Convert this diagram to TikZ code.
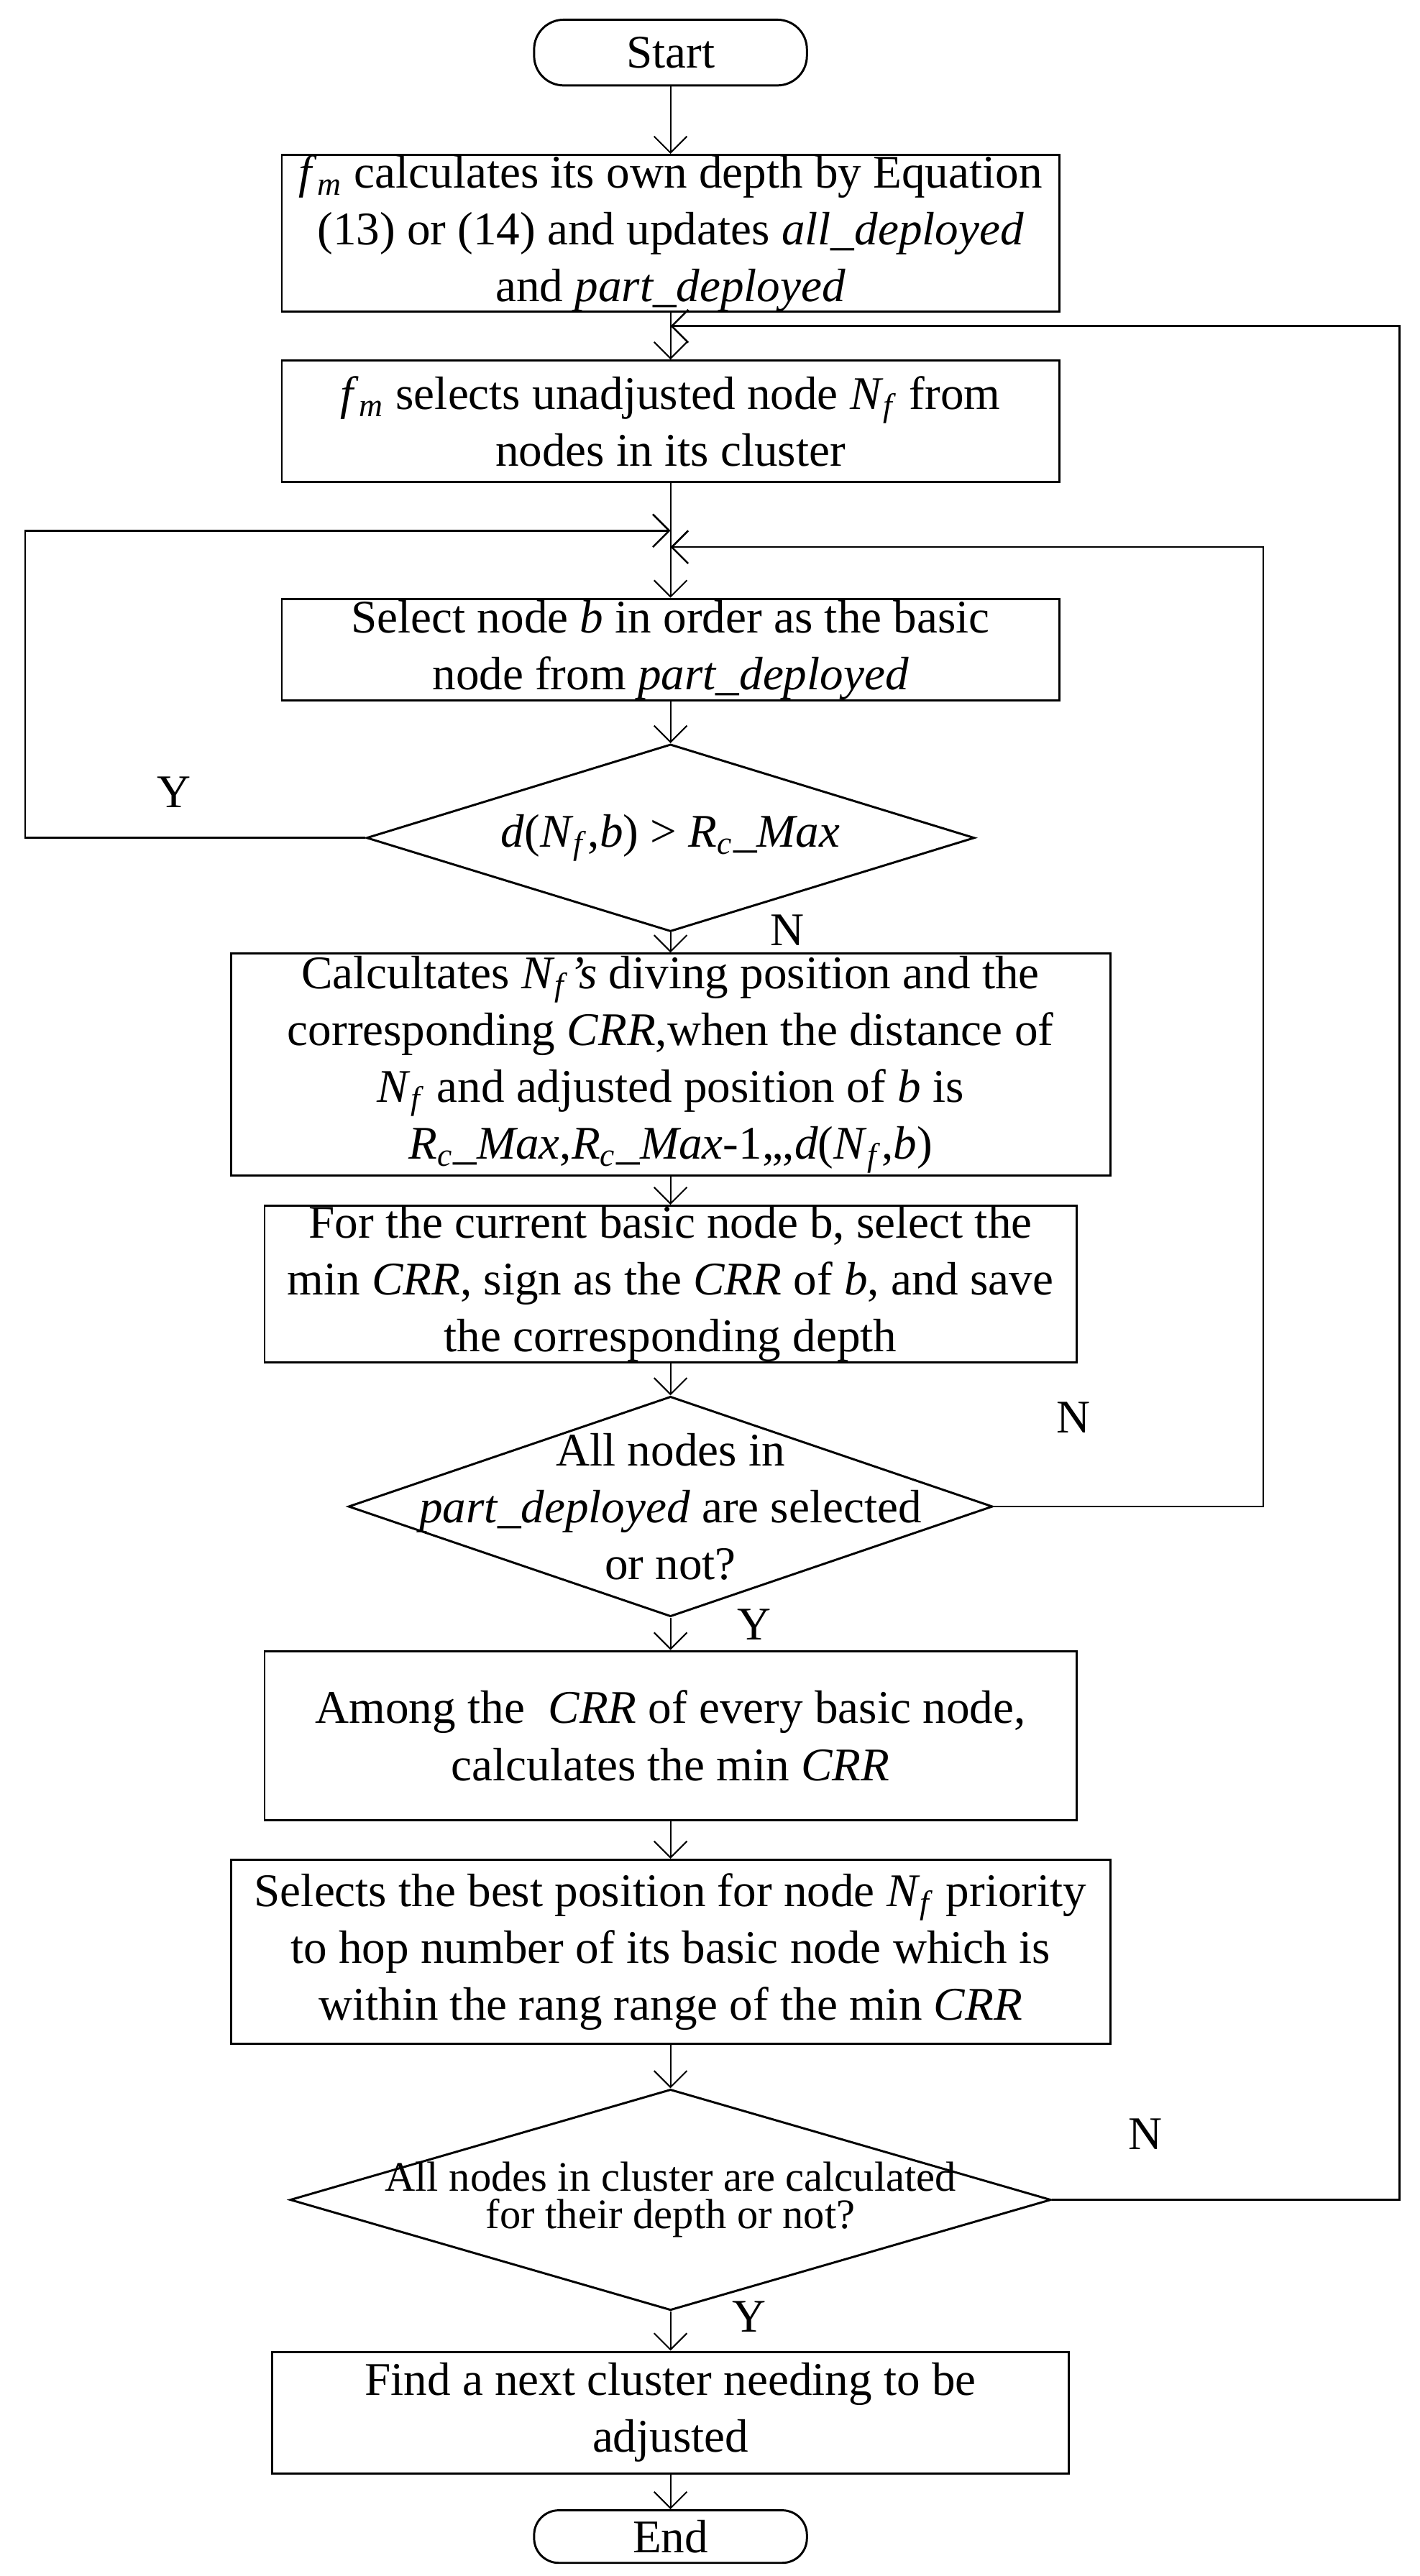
\documentclass[tikz,border=0pt]{standalone}
\usepackage{fontspec}
\setmainfont{Liberation Serif}
\usetikzlibrary{arrows.meta,shapes.geometric}
\newcommand\Nf{\textit{N}\textsubscript{\textit{f}}}
\newcommand\fmx{\textit{f}\textsubscript{\textit{m}}}
\newcommand\Rc{\textit{R}\textsubscript{\textit{c}}}
\newcommand\mainfs{\fontsize{14.25}{17.3}\selectfont}
\begin{document}
\begin{tikzpicture}[x=0.5pt,y=-0.5pt,
  >={Straight Barb[length=5pt,width=10pt]},
  box/.style={draw,line width=0.65pt,rectangle,inner sep=0pt,align=center,font=\mainfs},
  term/.style={draw,line width=0.65pt,rectangle,rounded corners=9pt,inner sep=0pt,font=\mainfs},
  dia/.style={draw,line width=0.65pt,diamond,inner sep=0pt},
  txt/.style={align=center,inner sep=0pt,font=\mainfs},
  flow/.style={->,line width=0.45pt},
  back/.style={->,line width=0.55pt},
  lab/.style={inner sep=0pt,font=\mainfs}]
\useasboundingbox (0,0) rectangle (864,1568);

\node[term,minimum width=83pt,minimum height=20pt] (start) at (408,32) {Start};
\node[box,minimum width=236.5pt,minimum height=47pt] (b1) at (408,142)
  {\fmx{} calculates its own depth by Equation\\(13) or (14) and updates \textit{all\_deployed}\\and \textit{part\_deployed}};
\node[box,minimum width=236.5pt,minimum height=37pt] (b2) at (408,256.5)
  {\fmx{} selects unadjusted node \Nf{} from\\nodes in its cluster};
\node[box,minimum width=236.5pt,minimum height=31pt] (b3) at (408,395.5)
  {Select node \textit{b} in order as the basic\\node from \textit{part\_deployed}};
\node[dia,minimum width=185pt,minimum height=57pt] (d1) at (408,510) {};
\node[txt] (d1t) at (d1) {\textit{d}(\Nf,\textit{b}) > \Rc\textit{\_Max}};
\node[box,minimum width=267.5pt,minimum height=67.5pt] (b4) at (408,648)
  {Calcultates \Nf\textit{'s} diving position and the\\corresponding \textit{CRR},when the distance of\\\Nf{} and adjusted position of \textit{b} is\\\Rc\textit{\_Max},\Rc\textit{\_Max}-1,,,\textit{d}(\Nf,\textit{b})};
\node[box,minimum width=247pt,minimum height=47.5pt] (b5) at (408,781.5)
  {For the current basic node b, select the\\min \textit{CRR}, sign as the \textit{CRR} of \textit{b}, and save\\the corresponding depth};
\node[dia,minimum width=196pt,minimum height=67pt] (d2) at (408,917) {};
\node[txt] (d2t) at (d2) {All nodes in\\\textit{part\_deployed} are selected\\or not?};
\node[box,minimum width=247pt,minimum height=51.5pt] (b6) at (408,1056.5)
  {Among the \ \textit{CRR} of every basic node,\\calculates the min \textit{CRR}};
\node[box,minimum width=267.5pt,minimum height=56pt] (b7) at (408,1188)
  {Selects the best position for node \Nf{} priority\\to hop number of its basic node which is\\within the rang range of the min \textit{CRR}};
\node[dia,minimum width=231.5pt,minimum height=67.25pt] (d3) at (408,1339) {};
\node[txt,font=\fontsize{12.8}{11.5}\selectfont] (d3t) at (d3) {All nodes in cluster are calculated\\for their depth or not?};
\node[box,minimum width=242.5pt,minimum height=37pt] (b8) at (408,1468.5)
  {Find a next cluster needing to be\\adjusted};
\node[term,minimum width=83pt,minimum height=16pt,rounded corners=7.5pt] (end) at (408,1544) {End};

\coordinate (jT) at (408,198.5);
\coordinate (jL) at (408,323);
\coordinate (jR) at (408,333);

\draw[flow] (start) -- (b1);
\draw[flow] (b1) -- (b2);
\draw[flow] (b2) -- (b3);
\draw[flow] (b3) -- (d1.north);
\draw[flow] (d1.south) -- (b4);
\draw[flow] (b4) -- (b5);
\draw[flow] (b5) -- (d2.north);
\draw[flow] (d2.south) -- (b6);
\draw[flow] (b6) -- (b7);
\draw[flow] (b7) -- (d3.north);
\draw[flow] (d3.south) -- (b8);
\draw[flow] (b8) -- (end);

\draw[back] (d1.west) -- ++(-207,0) |- (jL);
\draw[back] (d2.east) -- ++(164,0) |- (jR);
\draw[back] (d3.east) -- ++(211.5,0) |- (jT);

\node[lab] (y1) at (106,482) {Y};
\node[lab] (n1) at (479,566) {N};
\node[lab] (n2) at (653,863) {N};
\node[lab] (y2) at (459,989) {Y};
\node[lab] (n3) at (697,1299) {N};
\node[lab] (y3) at (456,1410) {Y};
\end{tikzpicture}
\end{document}
